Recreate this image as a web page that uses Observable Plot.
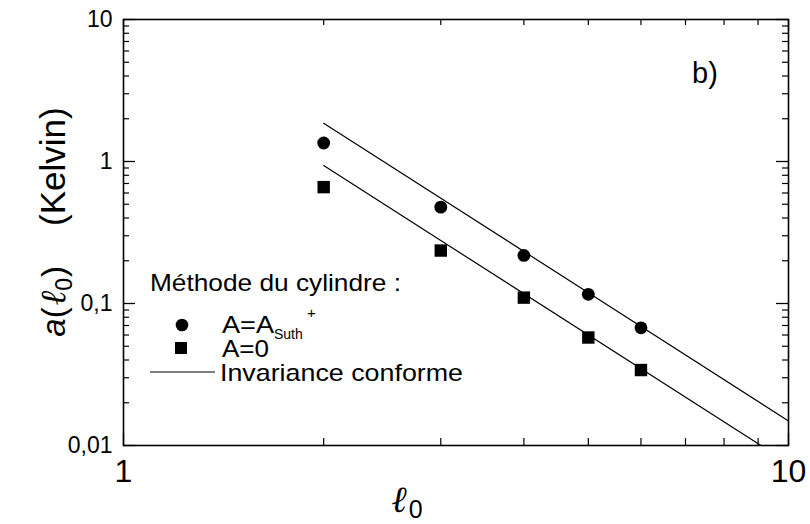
<!DOCTYPE html>
<html><head><meta charset="utf-8">
<script src="https://cdn.jsdelivr.net/npm/d3@7"></script>
<script src="https://cdn.jsdelivr.net/npm/@observablehq/plot@0.6"></script>
<style>
body{margin:0;background:#fff}
</style>
</head><body><div id="chart"></div>
<script>
// ---- data ----
const lengths = [2, 3, 4, 5, 6];
const aSuth = [1.35, 0.477, 0.218, 0.116, 0.0674];
const aZero = [0.66, 0.236, 0.110, 0.0576, 0.034];
const upperLineX = [2, 10];
const upperLineY = [1.86, 0.0149];
const lowerLineX = [2, 9.09];
const lowerLineY = [0.937, 0.01];
const xMajor = [1, 10];
const xMajorLabels = ["1", "10"];
const xMinor = [2, 3, 4, 5, 6, 7, 8, 9];
const yMajor = [0.01, 0.1, 1, 10];
const yMajorLabels = ["0,01", "0,1", "1", "10"];
const yMinor = [0.02, 0.03, 0.04, 0.05, 0.06, 0.07, 0.08, 0.09,
                0.2, 0.3, 0.4, 0.5, 0.6, 0.7, 0.8, 0.9,
                2, 3, 4, 5, 6, 7, 8, 9];

// ---- layout ----
const W = 810, H = 524, mL = 123, mR = 22, mT = 19, mB = 79;
const pw = W - mL - mR, ph = H - mT - mB;
const FONT = "Arial, 'Liberation Sans', Helvetica, sans-serif";

const suthPts = lengths.map((l, i) => ({x: l, y: aSuth[i]}));
const zeroPts = lengths.map((l, i) => ({x: l, y: aZero[i]}));
const upperPts = upperLineX.map((x, i) => ({x, y: upperLineY[i]}));
const lowerPts = lowerLineX.map((x, i) => ({x, y: lowerLineY[i]}));

const plot = Plot.plot({
  width: W, height: H,
  marginLeft: mL, marginRight: mR, marginTop: mT, marginBottom: mB,
  style: {background: "white", color: "black", overflow: "visible", fontFamily: FONT},
  x: {type: "log", domain: [1, 10], axis: null},
  y: {type: "log", domain: [0.01, 10], axis: null},
  marks: [
    // inward ticks, all four sides
    Plot.tickY(yMajor, {y: d => d, insetRight: pw - 12, stroke: "black", strokeWidth: 1.3}),
    Plot.tickY(yMajor, {y: d => d, insetLeft: pw - 12, stroke: "black", strokeWidth: 1.3}),
    Plot.tickY(yMinor, {y: d => d, insetRight: pw - 6, stroke: "black", strokeWidth: 1.2}),
    Plot.tickY(yMinor, {y: d => d, insetLeft: pw - 6, stroke: "black", strokeWidth: 1.2}),
    Plot.tickX(xMajor, {x: d => d, insetTop: ph - 12, stroke: "black", strokeWidth: 1.3}),
    Plot.tickX(xMajor, {x: d => d, insetBottom: ph - 12, stroke: "black", strokeWidth: 1.3}),
    Plot.tickX(xMinor, {x: d => d, insetTop: ph - 7, stroke: "black", strokeWidth: 1.2}),
    Plot.tickX(xMinor, {x: d => d, insetBottom: ph - 6, stroke: "black", strokeWidth: 1.2}),
    Plot.frame({stroke: "black", strokeWidth: 1.6}),
    // tick labels
    Plot.text(yMajor, {y: d => d, text: (d, i) => yMajorLabels[i], frameAnchor: "left",
      textAnchor: "end", dx: -11, fontSize: 23, fill: "black"}),
    Plot.text(xMajor, {x: d => d, text: (d, i) => xMajorLabels[i], frameAnchor: "bottom",
      lineAnchor: "top", dy: 14, fontSize: 32, fill: "black"}),
    // conformal invariance lines
    Plot.line(upperPts, {x: "x", y: "y", stroke: "black", strokeWidth: 1.2}),
    Plot.line(lowerPts, {x: "x", y: "y", stroke: "black", strokeWidth: 1.2}),
    // data
    Plot.dot(suthPts, {x: "x", y: "y", r: 6.4, fill: "black", symbol: "circle"}),
    Plot.dot(zeroPts, {x: "x", y: "y", r: 7, fill: "black", symbol: "square"})
  ]
});

document.getElementById("chart").appendChild(plot);

const svg = d3.select(plot);
const g = svg.append("g").attr("fill", "black").attr("text-anchor", "start")
  .attr("font-family", FONT);

// panel label
g.append("text").attr("x", 692).attr("y", 83).attr("font-size", 29).text("b)");

// y axis label (rotated)
const yl = g.append("text")
  .attr("transform", "translate(65,222) rotate(-90)")
  .attr("text-anchor", "middle")
  .attr("font-size", 35);
yl.append("tspan").attr("font-style", "italic").attr("font-size", 33).text("a");
yl.append("tspan").attr("font-size", 33).text("(");
yl.append("tspan").attr("font-family", "'DejaVu Serif',serif").attr("font-style", "italic")
  .attr("font-size", 35).attr("dx", 2).text("ℓ");
yl.append("tspan").attr("font-size", 23).attr("dy", 7).text("0");
yl.append("tspan").attr("font-size", 33).attr("dy", -7).attr("dx", 1).text(")");
yl.append("tspan").attr("dx", 40).text("(Kelvin)");

// x axis label
const xl = g.append("text").attr("x", 407).attr("y", 512).attr("text-anchor", "middle").attr("font-size", 37);
xl.append("tspan").attr("font-family", "'DejaVu Serif',serif").attr("font-style", "italic").text("ℓ");
xl.append("tspan").attr("font-size", 25).attr("dy", 6).attr("dx", 2).text("0");

// legend (slightly wide lettering, as in the original)
const fs = 24;
const stretch = (sel, len) => sel.attr("textLength", len).attr("lengthAdjust", "spacingAndGlyphs");
stretch(g.append("text").attr("x", 150).attr("y", 291).attr("font-size", fs).text("Méthode du cylindre :"), 251);
g.append("circle").attr("cx", 182).attr("cy", 325).attr("r", 6.3);
stretch(g.append("text").attr("x", 222).attr("y", 333).attr("font-size", fs).text("A=A"), 52);
g.append("text").attr("x", 274).attr("y", 339).attr("font-size", 14).text("Suth");
g.append("text").attr("x", 307).attr("y", 318).attr("font-size", 15).text("+");
g.append("rect").attr("x", 175).attr("y", 342).attr("width", 12).attr("height", 12);
stretch(g.append("text").attr("x", 222).attr("y", 357).attr("font-size", fs).text("A=0"), 47);
g.append("line").attr("x1", 150).attr("x2", 215).attr("y1", 372).attr("y2", 372)
  .attr("stroke", "black").attr("stroke-width", 1.2);
stretch(g.append("text").attr("x", 220).attr("y", 381).attr("font-size", fs).text("Invariance conforme"), 243);
</script>
</body></html>
